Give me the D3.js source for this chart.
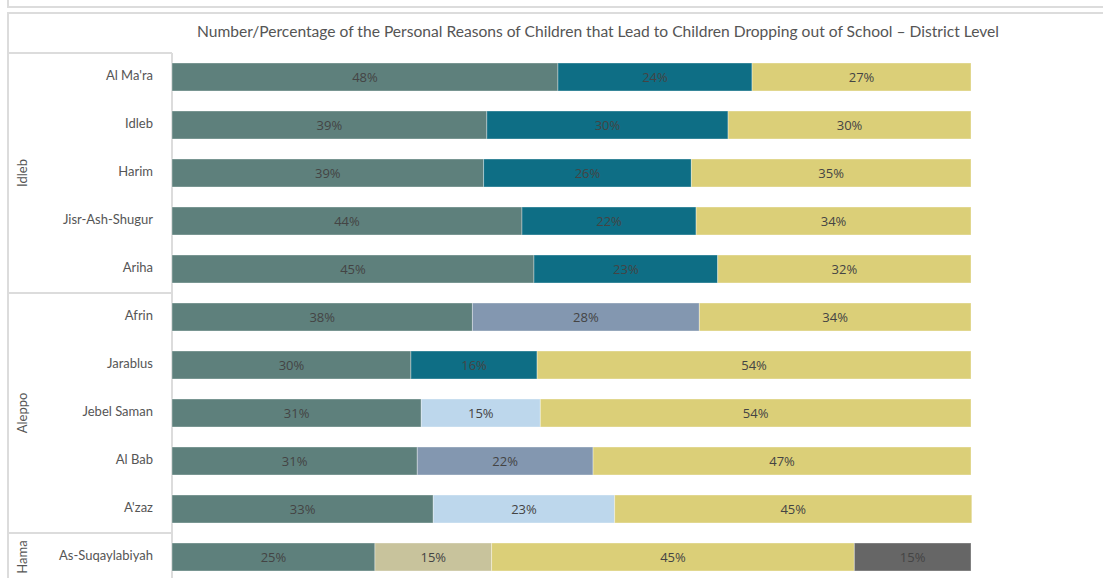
<!DOCTYPE html>
<html>
<head>
<meta charset="utf-8">
<script src="https://cdn.jsdelivr.net/npm/d3@7"></script>
<style>
  html, body { margin: 0; padding: 0; background: #fff; }
  svg { display: block; }
</style>
</head>
<body>
<svg id="chart" width="1103" height="578"></svg>
<script>
// ---- data ----
const districts = ["Al Ma'ra", "Idleb", "Harim", "Jisr-Ash-Shugur", "Ariha",
  "Afrin", "Jarablus", "Jebel Saman", "Al Bab", "A'zaz", "As-Suqaylabiyah"];
const governorates = ["Idleb", "Aleppo", "Hama"];
const governorateOf = ["Idleb", "Idleb", "Idleb", "Idleb", "Idleb",
  "Aleppo", "Aleppo", "Aleppo", "Aleppo", "Aleppo", "Hama"];
const seriesNames = ["Reason 1", "Reason 2", "Reason 3", "Reason 4", "Reason 5", "Reason 6", "Reason 7"];
const seriesColors = ["#5e807c", "#0e6e85", "#8397b0", "#bdd7ec", "#c8c39c", "#dbcf78", "#666666"];
// percentage of each reason per district (in order of districts)
const reason1 = [48.3, 39.4, 39.0, 43.8, 45.3, 37.6, 29.9, 31.2, 30.7, 32.7, 25.4];
const reason2 = [24.3, 30.2, 26.0, 21.8, 23.0, 0, 15.8, 0, 0, 0, 0];
const reason3 = [0, 0, 0, 0, 0, 28.4, 0, 0, 22.0, 0, 0];
const reason4 = [0, 0, 0, 0, 0, 0, 0, 14.9, 0, 22.7, 0];
const reason5 = [0, 0, 0, 0, 0, 0, 0, 0, 0, 0, 14.6];
const reason6 = [27.4, 30.4, 35.0, 34.4, 31.7, 34.0, 54.3, 53.9, 47.3, 44.7, 45.4];
const reason7 = [0, 0, 0, 0, 0, 0, 0, 0, 0, 0, 14.6];
const seriesValues = [reason1, reason2, reason3, reason4, reason5, reason6, reason7];
const title = "Number/Percentage of the Personal Reasons of Children that Lead to Children Dropping out of School \u2013 District Level";

// ---- build table ----
const rows = districts.map((d, i) => {
  const o = { district: d, gov: governorateOf[i] };
  seriesNames.forEach((s, j) => o[s] = seriesValues[j][i]);
  return o;
});
const stack = d3.stack().keys(seriesNames)(rows);

const svg = d3.select("#chart");
const border = "#dcdcdc";
const textFont = "Lato, 'Open Sans', sans-serif";

// frames
svg.append("rect").attr("x", 8).attr("y", -5).attr("width", 1110).attr("height", 12)
  .attr("fill", "none").attr("stroke", border).attr("stroke-width", 2);
svg.append("rect").attr("x", 8).attr("y", 13).attr("width", 1110).attr("height", 580)
  .attr("fill", "none").attr("stroke", border).attr("stroke-width", 2);

// title
svg.append("text").attr("x", 598).attr("y", 37).attr("text-anchor", "middle")
  .attr("font-family", textFont).attr("font-size", 15.6).attr("fill", "#555")
  .text(title);

const x = d3.scaleLinear().domain([0, 100]).range([172, 971]);
const y = d3.scaleBand().domain(districts).range([53, 581])
  .paddingInner(20 / 48).paddingOuter(10 / 48);

// header panel lines
const hdr = svg.append("g").attr("stroke", border).attr("stroke-width", 2).attr("fill", "none");
hdr.append("line").attr("x1", 8).attr("x2", 172).attr("y1", 53).attr("y2", 53);
hdr.append("line").attr("x1", 172).attr("x2", 172).attr("y1", 53).attr("y2", 590);
const step = y.step();
governorates.forEach((g, gi) => {
  const idx = districts.filter((d, i) => governorateOf[i] === g).map(d => districts.indexOf(d));
  const top = 53 + step * d3.min(idx);
  const bot = 53 + step * (d3.max(idx) + 1);
  if (gi > 0) hdr.append("line").attr("x1", 8).attr("x2", 172).attr("y1", top).attr("y2", top);
  const cy = Math.min((top + bot) / 2, 557);
  svg.append("text")
    .attr("transform", `translate(27,${gi === 2 ? 557 : cy}) rotate(-90)`)
    .attr("text-anchor", "middle")
    .attr("font-family", textFont).attr("font-size", 13).attr("fill", "#555")
    .text(g);
});

// row labels
svg.append("g").selectAll("text").data(districts).join("text")
  .attr("x", 153).attr("y", d => y(d) + y.bandwidth() / 2 - 2)
  .attr("dy", "0.35em").attr("text-anchor", "end")
  .attr("font-family", textFont).attr("font-size", 13).attr("fill", "#555")
  .text(d => d);

// bars
const fmt = v => d3.format(".0f")(v) + "%";
const layers = svg.append("g").selectAll("g").data(stack).join("g")
  .attr("fill", (d, i) => seriesColors[i]);
layers.selectAll("rect").data(d => d.filter(p => p[1] - p[0] > 0)).join("rect")
  .attr("x", p => x(p[0])).attr("width", p => x(p[1]) - x(p[0]))
  .attr("y", p => y(p.data.district)).attr("height", y.bandwidth())
  .attr("stroke", "#fff").attr("stroke-opacity", 0.35).attr("stroke-width", 1);

const labels = svg.append("g");
stack.forEach((layer) => {
  layer.forEach(p => {
    const v = p[1] - p[0];
    if (v <= 0) return;
    labels.append("text")
      .attr("x", x((p[0] + p[1]) / 2))
      .attr("y", y(p.data.district) + y.bandwidth() / 2)
      .attr("dy", "0.35em").attr("text-anchor", "middle")
      .attr("font-family", "'Open Sans', sans-serif").attr("font-size", 13)
      .attr("fill", "#444")
      .text(fmt(v));
  });
});
</script>
</body>
</html>
